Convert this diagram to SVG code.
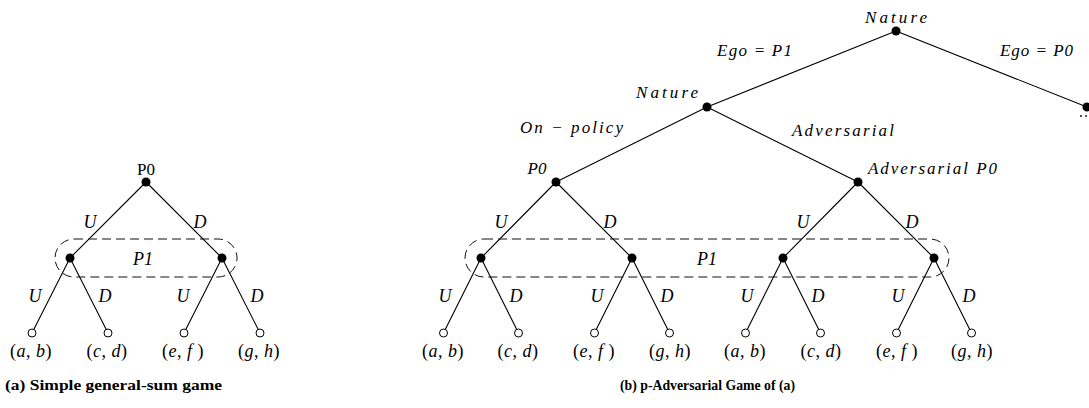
<svg xmlns="http://www.w3.org/2000/svg" width="1089" height="408" viewBox="0 0 1089 408">
<style>
.e{stroke:#000;stroke-width:1.1;fill:none}
.n{fill:#000}
.l{fill:#fff;stroke:#000;stroke-width:1}
.is{stroke:#111;stroke-width:1;fill:none;stroke-dasharray:9 5}
text{font-family:"Liberation Serif","Times New Roman",serif;font-size:17px;fill:#000}
.i{font-style:italic}
.m{text-anchor:middle}
.lf{font-size:18px;letter-spacing:0.5px}
.ud{font-size:18px}
.cap{font-weight:bold;font-size:15px}
</style>
<rect width="1089" height="408" fill="#fff"/>
<g id="connectors">
<path class="e" d="M146 182L70 258M146 182L222 258M70 258L32 333M70 258L108 333M222 258L184 333M222 258L260 333"/>
<path class="e" d="M896 31L707 107M896 31L1087 107M707 107L556 182M707 107L858 182"/>
<path class="e" d="M556 182L481 258M556 182L632 258M858 182L783 258M858 182L934 258"/>
<path class="e" d="M481 258L443.5 333M481 258L518.5 333M632 258L594.5 333M632 258L669.5 333M783 258L745.5 333M783 258L820.5 333M934 258L896.5 333M934 258L971.5 333"/>
</g>
<g id="infosets">
<rect class="is" x="55" y="239" width="182" height="38" rx="19"/>
<rect class="is" x="465" y="239" width="484" height="38" rx="19"/>
</g>
<g id="edge-labels">
<text class="i m ud" x="90" y="228">U</text><text class="i m ud" x="200" y="228">D</text>
<text class="i m ud" x="35" y="302">U</text><text class="i m ud" x="105" y="302">D</text>
<text class="i m ud" x="183" y="302">U</text><text class="i m ud" x="257" y="302">D</text>
<text class="i" x="717" y="56" textLength="75" lengthAdjust="spacing">Ego = P1</text>
<text class="i" x="1000" y="56" textLength="73" lengthAdjust="spacing">Ego = P0</text>
<text class="i" x="520" y="133" textLength="103" lengthAdjust="spacing">On − policy</text>
<text class="i" x="792" y="136" textLength="102" lengthAdjust="spacing">Adversarial</text>
<text class="i m ud" x="501" y="228">U</text><text class="i m ud" x="610" y="228">D</text>
<text class="i m ud" x="803" y="228">U</text><text class="i m ud" x="912" y="228">D</text>
<text class="i m ud" x="445" y="302">U</text><text class="i m ud" x="516" y="302">D</text>
<text class="i m ud" x="597" y="302">U</text><text class="i m ud" x="667" y="302">D</text>
<text class="i m ud" x="747" y="302">U</text><text class="i m ud" x="818" y="302">D</text>
<text class="i m ud" x="898" y="302">U</text><text class="i m ud" x="969" y="302">D</text>
</g>
<g id="a-root"><circle class="n" cx="146" cy="182" r="4.5"/><text class="m" x="146" y="175">P0</text></g>
<g id="a-p1"><circle class="n" cx="70" cy="258" r="4.5"/><circle class="n" cx="222" cy="258" r="4.5"/><text class="i m ud" x="143" y="265">P1</text></g>
<g id="a-leaves">
<circle class="l" cx="32" cy="333" r="4"/><circle class="l" cx="108" cy="333" r="4"/><circle class="l" cx="184" cy="333" r="4"/><circle class="l" cx="260" cy="333" r="4"/>
<text class="m lf" x="31" y="357">(<tspan class="i">a</tspan>, <tspan class="i">b</tspan>)</text>
<text class="m lf" x="107" y="357">(<tspan class="i">c</tspan>, <tspan class="i">d</tspan>)</text>
<text class="m lf" x="183" y="357">(<tspan class="i">e</tspan>, <tspan class="i">f</tspan> )</text>
<text class="m lf" x="259" y="357">(<tspan class="i">g</tspan>, <tspan class="i">h</tspan>)</text>
</g>
<g id="b-nature-top"><circle class="n" cx="896" cy="31" r="4.5"/><text class="i" x="865" y="23" textLength="62" lengthAdjust="spacing">Nature</text></g>
<g id="b-ego-p0"><circle class="n" cx="1087" cy="107" r="4.5"/><circle class="n" cx="1081" cy="116" r="0.9"/><circle class="n" cx="1086" cy="116" r="0.9"/></g>
<g id="b-nature-mid"><circle class="n" cx="707" cy="107" r="4.5"/><text class="i" x="636" y="98" textLength="62" lengthAdjust="spacing">Nature</text></g>
<g id="b-p0"><circle class="n" cx="556" cy="182" r="4.5"/><text class="i m" x="537" y="174">P0</text></g>
<g id="b-adv-p0"><circle class="n" cx="858" cy="182" r="4.5"/><text class="i" x="868" y="174" textLength="129" lengthAdjust="spacing">Adversarial P0</text></g>
<g id="b-p1"><circle class="n" cx="481" cy="258" r="4.5"/><circle class="n" cx="632" cy="258" r="4.5"/><circle class="n" cx="783" cy="258" r="4.5"/><circle class="n" cx="934" cy="258" r="4.5"/><text class="i m ud" x="707" y="265">P1</text></g>
<g id="b-leaves">
<circle class="l" cx="443.5" cy="333" r="4"/><circle class="l" cx="518.5" cy="333" r="4"/><circle class="l" cx="594.5" cy="333" r="4"/><circle class="l" cx="669.5" cy="333" r="4"/>
<circle class="l" cx="745.5" cy="333" r="4"/><circle class="l" cx="820.5" cy="333" r="4"/><circle class="l" cx="896.5" cy="333" r="4"/><circle class="l" cx="971.5" cy="333" r="4"/>
<text class="m lf" x="443" y="357">(<tspan class="i">a</tspan>, <tspan class="i">b</tspan>)</text>
<text class="m lf" x="518" y="357">(<tspan class="i">c</tspan>, <tspan class="i">d</tspan>)</text>
<text class="m lf" x="594" y="357">(<tspan class="i">e</tspan>, <tspan class="i">f</tspan> )</text>
<text class="m lf" x="670" y="357">(<tspan class="i">g</tspan>, <tspan class="i">h</tspan>)</text>
<text class="m lf" x="745" y="357">(<tspan class="i">a</tspan>, <tspan class="i">b</tspan>)</text>
<text class="m lf" x="821" y="357">(<tspan class="i">c</tspan>, <tspan class="i">d</tspan>)</text>
<text class="m lf" x="897" y="357">(<tspan class="i">e</tspan>, <tspan class="i">f</tspan> )</text>
<text class="m lf" x="972" y="357">(<tspan class="i">g</tspan>, <tspan class="i">h</tspan>)</text>
</g>
<g id="captions">
<text class="cap" x="5" y="390" textLength="217" lengthAdjust="spacingAndGlyphs">(a) Simple general-sum game</text>
<text class="cap" x="620" y="390" textLength="175" lengthAdjust="spacingAndGlyphs">(b) p-Adversarial Game of (a)</text>
</g>
</svg>
